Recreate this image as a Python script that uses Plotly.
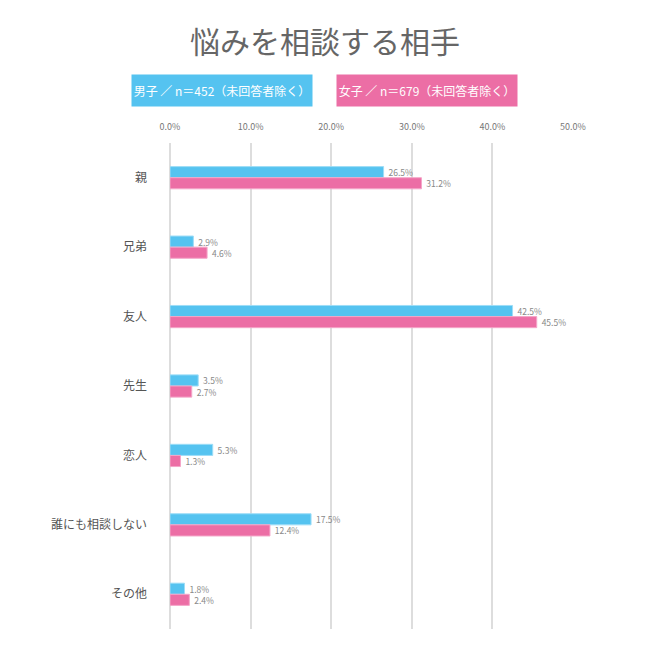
import plotly.graph_objects as go

categories = ["親", "兄弟", "友人", "先生", "恋人", "誰にも相談しない", "その他"]
male = [26.5, 2.9, 42.5, 3.5, 5.3, 17.5, 1.8]
female = [31.2, 4.6, 45.5, 2.7, 1.3, 12.4, 2.4]
tick_vals = [0, 10, 20, 30, 40, 50]
tick_text = ["0.0%", "10.0%", "20.0%", "30.0%", "40.0%", "50.0%"]
male_name = "男子 ／ n＝452（未回答者除く）"
female_name = "女子 ／ n＝679（未回答者除く）"
title = "悩みを相談する相手"

BLUE = "#55C3F0"
PINK = "#EC6EA5"
FONT = "Noto Sans CJK JP"

fig = go.Figure()
fig.add_trace(go.Bar(
    y=categories, x=male, orientation="h", name=male_name,
    marker=dict(color=BLUE, line=dict(color="#9EDDF7", width=1)),
    text=[f" {v:.1f}%" for v in male], textposition="outside",
    textfont=dict(size=8.5, color="#888", family=FONT), cliponaxis=False,
    constraintext="none",
))
fig.add_trace(go.Bar(
    y=categories, x=female, orientation="h", name=female_name,
    marker=dict(color=PINK, line=dict(color="#F4A6C8", width=1)),
    text=[f" {v:.1f}%" for v in female], textposition="outside",
    textfont=dict(size=8.5, color="#888", family=FONT), cliponaxis=False,
    constraintext="none",
))

fig.update_layout(
    width=650, height=660,
    margin=dict(l=170, r=77, t=143, b=31),
    paper_bgcolor="white", plot_bgcolor="white",
    barmode="group", bargap=0.68, bargroupgap=0.0,
    showlegend=False,
    font=dict(family=FONT, color="#555"),
    title=dict(text=title, x=0.5, xanchor="center", y=0.935, yanchor="middle",
               font=dict(size=30, color="#666", family=FONT)),
    xaxis=dict(side="top", range=[0, 50], tickvals=tick_vals, ticktext=tick_text,
               showgrid=True, gridcolor="#DDDDDD", gridwidth=1.5,
               zeroline=True, zerolinecolor="#DDDDDD", zerolinewidth=1.5,
               tickfont=dict(size=9, color="#777"), ticks="", fixedrange=True,
               ticklabelstandoff=10),
    yaxis=dict(autorange="reversed", showgrid=False, ticks="",
               tickfont=dict(size=12, color="#555"), ticklabelstandoff=22),
)

legend_y = 1 + (143 - 90.5) / 486
fig.add_annotation(xref="paper", yref="paper", x=(222 - 170) / 403, y=legend_y,
                   text=male_name, showarrow=False, bgcolor=BLUE, width=178, height=29,
                   font=dict(size=12, color="white", family=FONT), xanchor="center", yanchor="middle")
fig.add_annotation(xref="paper", yref="paper", x=(427 - 170) / 403, y=legend_y,
                   text=female_name, showarrow=False, bgcolor=PINK, width=178, height=29,
                   font=dict(size=12, color="white", family=FONT), xanchor="center", yanchor="middle")

fig.write_html("out.html")
